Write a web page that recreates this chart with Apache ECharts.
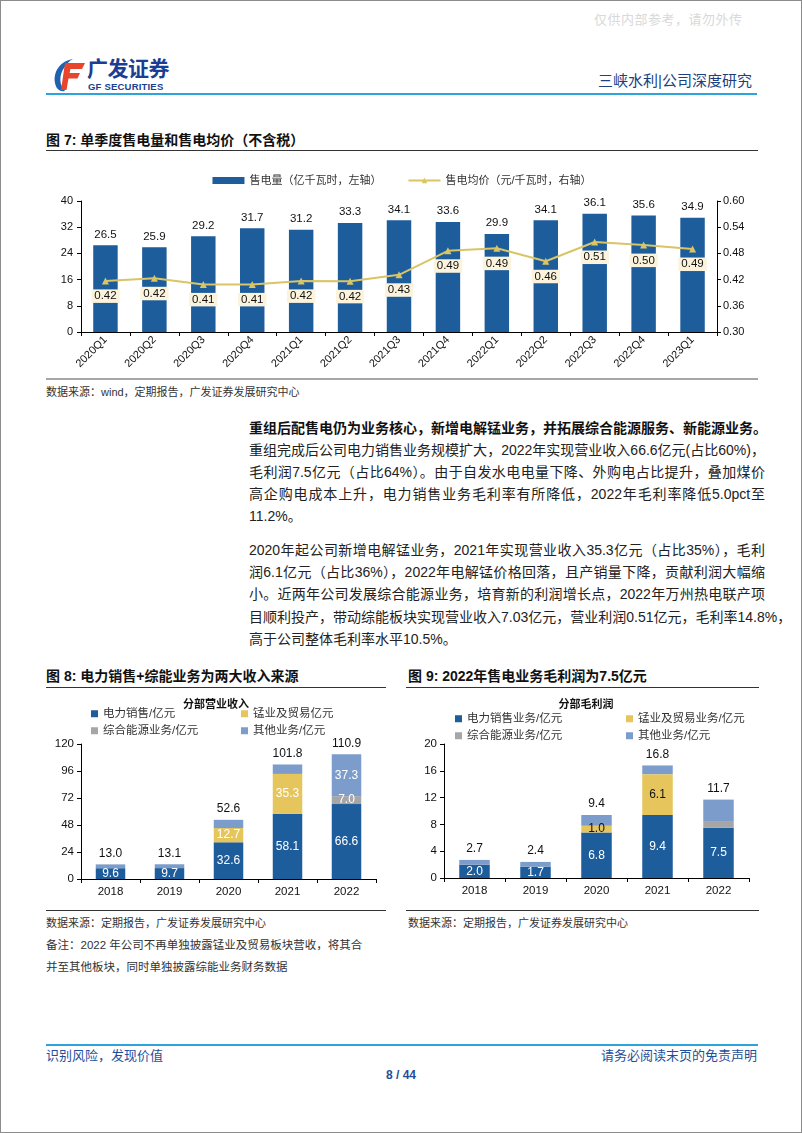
<!DOCTYPE html>
<html>
<head>
<meta charset="utf-8">
<script src="https://cdn.jsdelivr.net/npm/echarts@6/dist/echarts.min.js"></script>
<style>
html,body{margin:0;padding:0;background:#fff;}
#page{position:relative;width:800px;height:1131px;border:1px solid #8c8c8c;overflow:hidden;
  font-family:"Liberation Sans",Arial,"Noto Sans CJK SC",sans-serif;color:#222;}
.abs{position:absolute;white-space:nowrap;}
.hline{position:absolute;height:0;}
.para{position:absolute;left:248px;width:516px;font-size:14px;line-height:22px;height:22px;
  text-align:justify;text-align-last:justify;white-space:nowrap;color:#222;}
.para.last{text-align-last:left;}
.src{position:absolute;font-size:11px;line-height:14px;color:#333;white-space:nowrap;}
.ftitle{position:absolute;font-size:14px;line-height:18px;font-weight:bold;color:#111;white-space:nowrap;}
.chart{position:absolute;}
</style>
</head>
<body>
<div id="page">
  <!-- watermark -->
  <div class="abs" style="left:593px;top:8px;font-size:13px;color:#d9d9d9;letter-spacing:0.5px;">仅供内部参考，请勿外传</div>

  <!-- logo -->
  <svg style="position:absolute;left:51px;top:57px" width="34" height="34" viewBox="0 0 34 34">
    <path d="M21 1 C8 3 1 14 3 25 C4 31 8 34 13 33 C7 27 7 17 12 10 C15 5 18 2.5 21 1Z" fill="#1E62B0"/>
    <path d="M13 5 H33 L30 11 H18.5 L17.6 15 H28 L25.5 20.5 H16.5 L14.5 32 H9 Z" fill="#E8452C"/>
  </svg>
  <div class="abs" style="left:86px;top:56px;font-size:21px;line-height:24px;font-weight:bold;color:#1A3E93;letter-spacing:-0.5px;">广发证券</div>
  <div class="abs" style="left:87px;top:81px;font-size:9.5px;line-height:10px;font-weight:bold;color:#1A3E93;letter-spacing:0.2px;">GF SECURITIES</div>
  <div class="abs" style="left:597px;top:71px;font-size:15px;line-height:18px;color:#203F7E;">三峡水利|公司深度研究</div>
  <div class="hline" style="left:45px;top:92px;width:711px;border-top:2px solid #2CA3DC;"></div>

  <!-- figure 7 -->
  <div class="ftitle" style="left:45px;top:130px;">图 7:&nbsp;单季度售电量和售电均价（不含税）</div>
  <div class="hline" style="left:45px;top:149px;width:712px;border-top:1px solid #333;"></div>
  <div id="c7" class="chart" style="left:0px;top:160px;width:802px;height:216px;"></div>
  <div class="hline" style="left:45px;top:377px;width:712px;border-top:2px solid #a6a6a6;"></div>
  <div class="src" style="left:45px;top:384px;">数据来源：wind，定期报告，广发证券发展研究中心</div>

  <!-- paragraphs -->
  <div class="para" style="top:416px;font-weight:bold;color:#111;">重组后配售电仍为业务核心，新增电解锰业务，并拓展综合能源服务、新能源业务。</div>
  <div class="para" style="top:438px;">重组完成后公司电力销售业务规模扩大，2022年实现营业收入66.6亿元(占比60%)，</div>
  <div class="para" style="top:460px;">毛利润7.5亿元（占比64%）。由于自发水电电量下降、外购电占比提升，叠加煤价</div>
  <div class="para" style="top:482px;">高企购电成本上升，电力销售业务毛利率有所降低，2022年毛利率降低5.0pct至</div>
  <div class="para last" style="top:504px;">11.2%。</div>

  <div class="para" style="top:538px;">2020年起公司新增电解锰业务，2021年实现营业收入35.3亿元（占比35%），毛利</div>
  <div class="para" style="top:560px;">润6.1亿元（占比36%），2022年电解锰价格回落，且产销量下降，贡献利润大幅缩</div>
  <div class="para" style="top:582px;">小。近两年公司发展综合能源业务，培育新的利润增长点，2022年万州热电联产项</div>
  <div class="para" style="top:605px;">目顺利投产，带动综能板块实现营业收入7.03亿元，营业利润0.51亿元，毛利率14.8%，</div>
  <div class="para last" style="top:627px;">高于公司整体毛利率水平10.5%。</div>

  <!-- figure 8 / 9 -->
  <div class="ftitle" style="left:45px;top:666px;">图 8:&nbsp;电力销售+综能业务为两大收入来源</div>
  <div class="hline" style="left:45px;top:686px;width:340px;border-top:1px solid #333;"></div>
  <div class="ftitle" style="left:407px;top:666px;">图 9:&nbsp;2022年售电业务毛利润为7.5亿元</div>
  <div class="hline" style="left:405px;top:686px;width:353px;border-top:1px solid #333;"></div>

  <div id="c8" class="chart" style="left:30px;top:690px;width:370px;height:215px;"></div>
  <div id="c9" class="chart" style="left:400px;top:690px;width:370px;height:215px;"></div>

  <div class="hline" style="left:45px;top:909px;width:340px;border-top:1px solid #333;"></div>
  <div class="hline" style="left:405px;top:909px;width:353px;border-top:1px solid #333;"></div>
  <div class="src" style="left:45px;top:915px;">数据来源：定期报告，广发证券发展研究中心</div>
  <div class="src" style="left:45px;top:937px;font-size:11.5px;">备注：2022 年公司不再单独披露锰业及贸易板块营收，将其合</div>
  <div class="src" style="left:45px;top:959px;font-size:11.5px;">并至其他板块，同时单独披露综能业务财务数据</div>
  <div class="src" style="left:407px;top:915px;">数据来源：定期报告，广发证券发展研究中心</div>

  <!-- footer -->
  <div class="hline" style="left:45px;top:1043px;width:712px;border-top:2px solid #2CA3DC;"></div>
  <div class="abs" style="left:45px;top:1047px;font-size:13px;line-height:16px;color:#1F4E9A;">识别风险，发现价值</div>
  <div class="abs" style="right:44px;top:1047px;font-size:13px;line-height:16px;color:#1F4E9A;">请务必阅读末页的免责声明</div>
  <div class="abs" style="left:380px;top:1066px;width:40px;text-align:center;font-size:12px;line-height:16px;font-weight:bold;color:#1F4E9A;">8 / 44</div>
</div>

<script>
// ---------- Figure 7 data ----------
const quarters = ['2020Q1','2020Q2','2020Q3','2020Q4','2021Q1','2021Q2','2021Q3','2021Q4','2022Q1','2022Q2','2022Q3','2022Q4','2023Q1'];
const salesVolume = [26.5,25.9,29.2,31.7,31.2,33.3,34.1,33.6,29.9,34.1,36.1,35.6,34.9];
const avgPrice = [0.417,0.423,0.409,0.409,0.417,0.416,0.431,0.486,0.492,0.462,0.506,0.499,0.490];
const seriesNames7 = ['售电量（亿千瓦时，左轴）','售电均价（元/千瓦时，右轴）'];

// ---------- Figure 8 data ----------
const years = ['2018','2019','2020','2021','2022'];
const revNames = ['电力销售/亿元','锰业及贸易亿元','综合能源业务/亿元','其他业务/亿元'];
const revPower  = [9.6, 9.7, 32.6, 58.1, 66.6];
const revMn     = [0, 0, 12.7, 35.3, 0];
const revEnergy = [0, 0, 0, 0, 7.0];
const revOther  = [3.4, 3.4, 7.3, 8.4, 37.3];
const revTotal  = [13.0, 13.1, 52.6, 101.8, 110.9];

// ---------- Figure 9 data ----------
const gpNames = ['电力销售业务/亿元','锰业及贸易业务/亿元','综合能源业务/亿元','其他业务/亿元'];
const gpPower  = [2.0, 1.7, 6.8, 9.4, 7.5];
const gpMn     = [0, 0, 1.0, 6.1, 0];
const gpEnergy = [0, 0, 0, 0, 1.0];
const gpOther  = [0.7, 0.7, 1.6, 1.3, 3.2];
const gpTotal  = [2.7, 2.4, 9.4, 16.8, 11.7];

const FONT = '"Liberation Sans", Arial, "Noto Sans CJK SC", sans-serif';
const BLUE = '#1E5D9C', YELLOW = '#E6C65C', GRAY = '#A6A6A6', LBLUE = '#7C9DCB';

// ---------- Chart 7 ----------
const c7 = echarts.init(document.getElementById('c7'), null, {renderer:'canvas'});
c7.setOption({
  animation:false,
  textStyle:{fontFamily:FONT},
  legend:{
    top:9, left:'center', itemGap:26, itemWidth:32, itemHeight:7,
    textStyle:{fontSize:11, color:'#333', fontFamily:FONT},
    data:[{name:seriesNames7[0], icon:'rect'}, {name:seriesNames7[1]}]
  },
  grid:{left:80, right:86, top:40, bottom:45},
  xAxis:{
    type:'category', data:quarters,
    axisLine:{lineStyle:{color:'#000', width:1}},
    axisTick:{show:true, length:4, lineStyle:{color:'#000'}},
    axisLabel:{rotate:45, fontSize:11, color:'#111', margin:6, fontFamily:FONT}
  },
  yAxis:[
    {type:'value', min:0, max:40, interval:8,
     axisLine:{show:true, lineStyle:{color:'#000'}},
     axisTick:{show:true, length:4, lineStyle:{color:'#000'}},
     splitLine:{show:false},
     axisLabel:{fontSize:11, color:'#111', margin:8}},
    {type:'value', min:0.30, max:0.60, interval:0.06,
     axisLine:{show:true, lineStyle:{color:'#000'}},
     axisTick:{show:true, length:4, lineStyle:{color:'#000'}},
     splitLine:{show:false},
     axisLabel:{fontSize:11, color:'#111', margin:6, formatter:v=>v.toFixed(2)}}
  ],
  series:[
    {name:seriesNames7[0], type:'bar', data:salesVolume, barWidth:'50%',
     itemStyle:{color:BLUE},
     label:{show:true, position:'top', distance:5, fontSize:11.5, color:'#111', formatter:p=>p.value.toFixed(1)}},
    {name:seriesNames7[1], type:'line', yAxisIndex:1, data:avgPrice,
     symbol:'triangle', symbolSize:7, z:5,
     itemStyle:{color:'#D9C466'}, lineStyle:{color:'#D9C466', width:2},
     label:{show:true, position:'bottom', distance:5, fontSize:11.5, color:'#111',
            backgroundColor:'#FBF3DC', padding:[1,3,1,3], formatter:p=>p.value.toFixed(2)}}
  ]
});

// ---------- stacked charts ----------
function stackedOption(cfg){
  const labelFmt = p => (p.value ? Number(p.value).toFixed(1) : '');
  const legends = cfg.names.map((n,i)=>({
    data:[{name:n, icon:'rect'}], left:cfg.legendPos[i][0], top:cfg.legendPos[i][1],
    itemWidth:7, itemHeight:7, itemGap:4, padding:0,
    textStyle:{fontSize:11.5, color:'#333', fontFamily:FONT}
  }));
  const otherData = cfg.values[3].map((v,i)=>({value:v, label:{show: cfg.otherLabelIdx.indexOf(i) >= 0}}));
  const colors = [BLUE, YELLOW, GRAY, LBLUE];
  const labelColors = cfg.labelColors;
  const series = cfg.values.map((vals,k)=>({
    name:cfg.names[k], type:'bar', stack:'s', barWidth:'50%', barGap:'-100%',
    data: k===3 ? otherData : vals,
    itemStyle:{color:colors[k]},
    label:{show: k!==3 ? cfg.labelShow[k] : true, position:'inside', fontSize:12, color:labelColors[k], formatter:labelFmt}
  }));
  series.push({
    name:'total', type:'bar', barWidth:'50%', barGap:'-100%', data:cfg.total, silent:true, z:1,
    itemStyle:{color:'rgba(0,0,0,0)'},
    label:{show:true, position:'top', distance:5, fontSize:12, color:'#111', formatter:p=>p.value.toFixed(1)}
  });
  return {
    animation:false,
    textStyle:{fontFamily:FONT},
    title:{text:cfg.title, left:'center', top:3,
      textStyle:{fontSize:11, fontWeight:'bold', color:'#111', fontFamily:FONT}},
    legend:legends,
    grid:{left:cfg.grid[0], right:cfg.grid[1], top:cfg.grid[2], bottom:cfg.grid[3]},
    xAxis:{type:'category', data:years,
      axisLine:{lineStyle:{color:'#000'}},
      axisTick:{show:true, length:4, lineStyle:{color:'#000'}},
      axisLabel:{fontSize:11.5, color:'#111', margin:7}},
    yAxis:{type:'value', min:0, max:cfg.yMax, interval:cfg.yInterval,
      axisLine:{show:true, lineStyle:{color:'#000'}},
      axisTick:{show:true, length:4, lineStyle:{color:'#000'}},
      splitLine:{show:false},
      axisLabel:{fontSize:11.5, color:'#111', margin:7}},
    series:series
  };
}

const c8 = echarts.init(document.getElementById('c8'));
c8.setOption(stackedOption({
  title:'分部营业收入', names:revNames,
  values:[revPower, revMn, revEnergy, revOther], total:revTotal,
  yMax:120, yInterval:24,
  grid:[50, 25, 53, 27],
  legendPos:[[60,17],[210,17],[60,34],[210,34]],
  labelShow:[true,true,true],
  labelColors:['#fff','#fff','#fff','#fff'],
  otherLabelIdx:[4]
}));

const c9 = echarts.init(document.getElementById('c9'));
c9.setOption(stackedOption({
  title:'分部毛利润', names:gpNames,
  values:[gpPower, gpMn, gpEnergy, gpOther], total:gpTotal,
  yMax:20, yInterval:4,
  grid:[43, 22, 53, 28],
  legendPos:[[54,22],[225,22],[54,39],[225,39]],
  labelShow:[true,true,false],
  labelColors:['#fff','#111','#fff','#fff'],
  otherLabelIdx:[]
}));
</script>
</body>
</html>
